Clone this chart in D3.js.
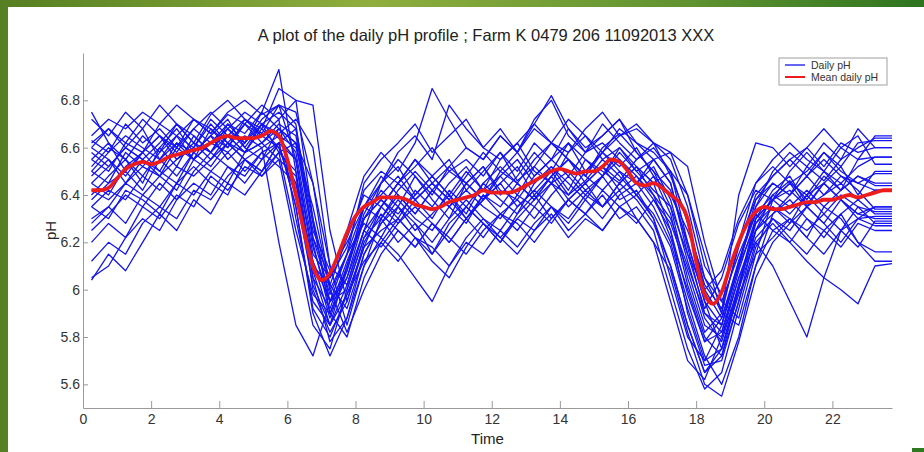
<!DOCTYPE html>
<html>
<head>
<meta charset="utf-8">
<script src="https://cdn.jsdelivr.net/npm/d3@7"></script>
<style>
  html, body { margin: 0; padding: 0; background: #fff; }
  body { width: 924px; height: 452px; overflow: hidden; }
  text { font-family: "Liberation Sans", Arial, sans-serif; }
</style>
</head>
<body>
<div id="chart"></div>
<script>
// Chart text
const chartTitle = "A plot of the daily pH profile ; Farm K 0479 206 11092013 XXX";
const xLabel = "Time";
const yLabel = "pH";
const legendLabels = ["Daily pH", "Mean daily pH"];
const xTicks = [0, 2, 4, 6, 8, 10, 12, 14, 16, 18, 20, 22];
const yTicks = [5.6, 5.8, 6, 6.2, 6.4, 6.6, 6.8];

// Sample times (hours) of the daily readings
const times = [0.25, 0.75, 1.25, 1.75, 2.25, 2.75, 3.25, 3.75, 4.25, 4.75, 5.25, 5.75,
  6.25, 6.75, 7.25, 7.75, 8.25, 8.75, 9.25, 9.75, 10.25, 10.75, 11.25, 11.75,
  12.25, 12.75, 13.25, 13.75, 14.25, 14.75, 15.25, 15.75, 16.25, 16.75, 17.25, 17.75,
  18.25, 18.75, 19.25, 19.75, 20.25, 20.75, 21.25, 21.75, 22.25, 22.75, 23.25, 23.75];

// Daily pH curves (one per day)
const day01 = [6.63,6.58,6.70,6.62,6.68,6.60,6.72,6.66,6.74,6.70,6.65,6.72, 6.30,5.95,5.85,6.10, 6.35,6.45,6.52,6.40,6.48,6.55,6.42,6.50,6.58,6.46,6.52,6.62,6.55,6.48,6.60,6.66, 6.58,6.50,6.35,6.05,5.82,5.90,6.20,6.38, 6.45,6.40,6.52,6.46,6.55,6.60,6.64,6.64];
const day02 = [6.45,6.40,6.52,6.58,6.50,6.62,6.55,6.68,6.60,6.72,6.66,6.78, 6.70,6.20,5.90,6.05, 6.30,6.42,6.35,6.48,6.38,6.30,6.45,6.52,6.40,6.48,6.58,6.50,6.62,6.55,6.48,6.60, 6.52,6.45,6.50,6.20,5.95,5.75,6.00,6.30, 6.42,6.48,6.36,6.45,6.52,6.40,6.50,6.50];
const day03 = [6.05,6.10,6.22,6.30,6.25,6.38,6.45,6.40,6.52,6.48,6.58,6.62, 6.55,6.05,5.78,5.88, 6.15,6.28,6.35,6.25,6.32,6.40,6.30,6.38,6.45,6.35,6.42,6.50,6.40,6.46,6.55,6.48, 6.40,6.30,6.10,5.85,5.65,5.72,6.00,6.22, 6.30,6.25,6.35,6.28,6.38,6.32,6.30,6.30];
const day04 = [6.72,6.65,6.75,6.68,6.78,6.70,6.62,6.74,6.80,6.72,6.68,6.85, 6.80,6.30,6.00,6.15, 6.45,6.55,6.62,6.70,6.58,6.65,6.72,6.60,6.68,6.58,6.72,6.80,6.65,6.58,6.70,6.62, 6.55,6.62,6.48,6.30,6.00,5.88,6.10,6.35, 6.50,6.58,6.52,6.62,6.55,6.68,6.60,6.60];
const day05 = [6.30,6.35,6.28,6.40,6.48,6.42,6.55,6.50,6.45,6.58,6.62,6.55, 6.20,5.85,5.75,6.00, 6.22,6.30,6.20,6.28,6.15,6.25,6.35,6.28,6.20,6.32,6.40,6.30,6.38,6.45,6.35,6.42, 6.30,6.20,5.95,5.70,5.62,5.80,6.05,6.25, 6.35,6.28,6.40,6.32,6.25,6.35,6.28,6.28];
const day06 = [6.55,6.62,6.50,6.58,6.65,6.55,6.60,6.70,6.62,6.58,6.68,6.60, 6.45,6.10,6.02,6.22, 6.40,6.35,6.45,6.55,6.48,6.40,6.50,6.42,6.55,6.62,6.50,6.45,6.58,6.65,6.55,6.60, 6.50,6.55,6.45,6.15,5.92,6.05,6.28,6.42, 6.38,6.45,6.40,6.50,6.42,6.48,6.45,6.45];
const day07 = [6.12,6.20,6.15,6.28,6.35,6.30,6.42,6.38,6.48,6.55,6.50,6.62, 6.68,6.30,5.90,5.80, 6.05,6.20,6.30,6.22,6.12,6.05,6.18,6.28,6.20,6.30,6.25,6.35,6.28,6.38,6.30,6.40, 6.45,6.35,6.20,5.95,5.72,5.60,5.80,6.10, 6.25,6.30,6.22,6.35,6.30,6.20,6.16,6.16];
const day08 = [6.40,6.48,6.55,6.45,6.60,6.52,6.65,6.58,6.70,6.62,6.75,6.68, 6.62,6.25,6.08,6.20, 6.35,6.40,6.48,6.38,6.45,6.52,6.45,6.38,6.50,6.58,6.48,6.55,6.62,6.50,6.58,6.52, 6.60,6.48,6.40,6.25,6.05,5.95,6.15,6.32, 6.40,6.46,6.38,6.48,6.42,6.55,6.56,6.56];
const day09 = [6.58,6.52,6.60,6.68,6.55,6.62,6.58,6.65,6.72,6.60,6.70,6.66, 6.72,6.60,6.10,5.85, 6.10,6.30,6.40,6.32,6.42,6.35,6.28,6.40,6.35,6.45,6.38,6.48,6.55,6.45,6.52,6.46, 6.55,6.60,6.50,6.40,6.15,5.90,5.85,6.10, 6.32,6.40,6.48,6.40,6.45,6.38,6.42,6.42];
const day10 = [6.50,6.45,6.58,6.52,6.48,6.60,6.55,6.62,6.58,6.65,6.60,6.20, 5.85,5.72,5.95,6.15, 6.28,6.22,6.35,6.28,6.20,6.30,6.38,6.30,6.25,6.35,6.42,6.35,6.30,6.40,6.48,6.38, 6.42,6.30,6.05,5.80,5.70,5.85,6.10,6.28, 6.35,6.30,6.25,6.32,6.40,6.35,6.33,6.33];
const day11 = [6.65,6.72,6.68,6.75,6.70,6.78,6.72,6.66,6.75,6.80,6.74,6.78, 6.55,6.15,6.05,6.25, 6.48,6.58,6.50,6.62,6.85,6.72,6.60,6.55,6.65,6.58,6.68,6.62,6.72,6.65,6.58,6.68, 6.62,6.55,6.58,6.40,6.10,5.98,6.20,6.45, 6.55,6.62,6.55,6.50,6.60,6.65,6.53,6.53];
const day12 = [6.35,6.30,6.42,6.38,6.32,6.45,6.52,6.45,6.40,6.55,6.48,6.58, 6.50,6.00,5.82,5.95, 6.20,6.32,6.25,6.18,6.28,6.22,6.15,6.25,6.32,6.28,6.20,6.30,6.38,6.32,6.42,6.35, 6.28,6.38,6.25,5.90,5.68,5.70,5.95,6.20, 6.28,6.20,6.30,6.25,6.18,6.28,6.25,6.25];
const day13 = [6.60,6.55,6.48,6.58,6.65,6.60,6.68,6.62,6.70,6.66,6.75,6.93, 6.50,6.05,5.92,6.12, 6.30,6.38,6.30,6.42,6.35,6.45,6.52,6.42,6.48,6.40,6.52,6.45,6.40,6.50,6.58,6.50, 6.45,6.52,6.38,6.12,5.88,5.78,6.02,6.30, 6.38,6.42,6.35,6.45,6.38,6.32,6.35,6.35];
const day14 = [6.25,6.32,6.40,6.35,6.45,6.38,6.50,6.58,6.52,6.45,6.55,6.62, 6.35,5.90,5.72,5.88, 6.10,6.22,6.15,6.05,5.95,6.10,6.20,6.15,6.25,6.18,6.28,6.35,6.25,6.32,6.40,6.30, 6.35,6.25,6.00,5.75,5.58,5.65,5.92,6.18, 6.30,6.22,6.15,6.25,6.32,6.20,6.12,6.12];
const day15 = [6.48,6.55,6.45,6.52,6.60,6.68,6.58,6.65,6.60,6.70,6.62,6.68, 6.58,6.18,5.95,6.08, 6.32,6.45,6.55,6.48,6.40,6.52,6.60,6.55,6.65,6.58,6.70,6.82,6.68,6.60,6.65,6.72, 6.58,6.50,6.42,6.20,5.95,5.85,6.10,6.38, 6.48,6.55,6.60,6.52,6.62,6.58,6.60,6.60];
const day16 = [6.38,6.45,6.50,6.42,6.55,6.48,6.58,6.52,6.62,6.55,6.60,6.65, 6.60,6.35,6.02,5.92, 6.15,6.28,6.38,6.30,6.25,6.35,6.42,6.35,6.30,6.40,6.35,6.45,6.50,6.42,6.48,6.55, 6.48,6.40,6.30,6.10,5.90,5.82,6.05,6.20, 6.10,5.95,5.80,6.05,6.25,6.18,6.29,6.29];
const day17 = [6.52,6.60,6.55,6.48,6.58,6.65,6.55,6.62,6.68,6.60,6.55,6.68, 6.62,6.22,5.98,6.15, 6.35,6.30,6.42,6.50,6.42,6.35,6.45,6.38,6.48,6.55,6.45,6.52,6.42,6.55,6.50,6.45, 6.52,6.45,6.25,5.98,5.78,5.88,6.12,6.32, 6.25,6.20,6.12,6.05,6.00,5.94,6.10,6.11];
const day18 = [6.42,6.38,6.45,6.55,6.50,6.45,6.58,6.65,6.55,6.62,6.70,6.58, 6.25,5.98,5.90,6.10, 6.30,6.38,6.32,6.40,6.48,6.40,6.32,6.45,6.38,6.32,6.45,6.52,6.45,6.38,6.48,6.58, 6.50,6.42,6.35,6.15,6.00,6.08,6.30,6.45, 6.52,6.45,6.50,6.58,6.50,6.45,6.49,6.49];
const day19 = [6.20,6.28,6.22,6.35,6.30,6.40,6.35,6.48,6.42,6.52,6.48,6.55, 6.48,6.08,5.85,5.98, 6.12,6.20,6.12,6.22,6.18,6.10,6.22,6.30,6.22,6.15,6.25,6.32,6.22,6.30,6.25,6.35, 6.40,6.32,6.18,5.92,5.70,5.75,5.98,6.15, 6.22,6.30,6.22,6.15,6.25,6.30,6.27,6.27];
const day20 = [6.60,6.68,6.62,6.72,6.65,6.58,6.68,6.75,6.68,6.62,6.72,6.78, 6.75,6.45,6.10,6.02, 6.25,6.45,6.58,6.65,6.55,6.78,6.68,6.60,6.55,6.62,6.70,6.62,6.58,6.68,6.75,6.65, 6.70,6.62,6.55,6.35,6.05,5.90,6.40,6.62, 6.60,6.52,6.60,6.68,6.60,6.55,6.65,6.65];
const day21 = [6.45,6.52,6.60,6.55,6.48,6.55,6.62,6.58,6.65,6.72,6.65,6.60, 6.40,6.02,5.85,6.02, 6.25,6.35,6.45,6.38,6.30,6.42,6.35,6.45,6.52,6.45,6.38,6.48,6.55,6.48,6.42,6.50, 6.40,6.48,6.32,6.02,5.80,5.72,5.95,6.25, 6.40,6.35,6.42,6.35,6.42,6.48,6.44,6.44];
const day22 = [6.75,6.62,6.55,6.65,6.58,6.70,6.62,6.55,6.65,6.58,6.62,6.70, 6.65,6.28,5.95,6.00, 6.22,6.35,6.28,6.38,6.45,6.38,6.30,6.38,6.45,6.52,6.40,6.48,6.38,6.45,6.52,6.42, 6.48,6.38,6.28,6.08,5.85,5.80,6.00,6.28, 6.38,6.45,6.35,6.40,6.48,6.42,6.34,6.34];
const day23 = [6.04,6.15,6.08,6.20,6.32,6.25,6.38,6.32,6.45,6.40,6.50,6.58, 6.62,6.45,6.00,5.82, 6.00,6.15,6.25,6.18,6.28,6.20,6.30,6.22,6.32,6.25,6.35,6.28,6.38,6.32,6.25,6.35, 6.30,6.20,6.08,5.82,5.60,5.55,5.78,6.05, 6.20,6.28,6.35,6.28,6.20,6.30,6.31,6.31];
const day24 = [6.55,6.50,6.62,6.58,6.70,6.65,6.60,6.72,6.65,6.58,6.70,6.75, 6.68,6.22,6.05,6.18, 6.42,6.50,6.45,6.52,6.60,6.50,6.55,6.48,6.58,6.50,6.62,6.55,6.68,6.58,6.65,6.72, 6.62,6.58,6.50,6.28,6.02,5.92,6.18,6.40, 6.48,6.55,6.48,6.58,6.52,6.62,6.63,6.63];
const day25 = [6.35,6.42,6.38,6.48,6.42,6.52,6.48,6.55,6.62,6.55,6.50,6.62, 6.35,5.92,5.80,5.98, 6.18,6.25,6.30,6.22,6.15,6.28,6.35,6.28,6.22,6.30,6.38,6.45,6.35,6.42,6.35,6.45, 6.38,6.28,6.10,5.85,5.65,5.75,6.02,6.25, 6.32,6.38,6.30,6.22,6.32,6.38,6.32,6.32];
const day26 = [6.50,6.58,6.65,6.60,6.55,6.65,6.72,6.68,6.62,6.70,6.78,6.72, 6.80,6.78,6.25,5.95, 6.18,6.35,6.45,6.55,6.45,6.38,6.48,6.58,6.50,6.45,6.55,6.62,6.55,6.48,6.58,6.65, 6.68,6.62,6.58,6.52,6.20,5.95,5.88,6.15, 6.38,6.50,6.58,6.50,6.45,6.52,6.56,6.56];
const day27 = [6.28,6.35,6.45,6.40,6.35,6.45,6.40,6.50,6.58,6.50,6.58,6.52, 6.45,6.12,5.95,6.05, 6.25,6.18,6.28,6.35,6.28,6.20,6.30,6.40,6.32,6.38,6.30,6.40,6.48,6.40,6.35,6.45, 6.52,6.40,6.22,6.00,5.78,5.82,6.08,6.30, 6.38,6.32,6.40,6.45,6.38,6.30,6.35,6.35];
const day28 = [6.62,6.68,6.60,6.55,6.62,6.70,6.65,6.58,6.68,6.75,6.70,6.64, 6.55,6.12,5.88,6.08, 6.35,6.48,6.40,6.32,6.42,6.50,6.45,6.52,6.42,6.38,6.48,6.55,6.48,6.58,6.62,6.55, 6.45,6.55,6.45,6.18,5.90,5.85,6.12,6.35, 6.45,6.40,6.48,6.55,6.48,6.45,6.42,6.42];

const dailyCurves = [day01, day02, day03, day04, day05, day06, day07, day08, day09, day10,
  day11, day12, day13, day14, day15, day16, day17, day18, day19, day20,
  day21, day22, day23, day24, day25, day26, day27, day28];

// Mean daily pH (read at quarter hours)
const meanTimes = [0.25, 0.5, 0.75, 1, 1.25, 1.5, 1.75, 2, 2.25, 2.5, 2.75, 3, 3.25, 3.5, 3.75, 4,
  4.25, 4.5, 4.75, 5, 5.25, 5.5, 5.75, 6, 6.25, 6.5, 6.75, 7, 7.25, 7.5, 7.75, 8,
  8.25, 8.5, 8.75, 9, 9.25, 9.5, 9.75, 10, 10.25, 10.5, 10.75, 11, 11.25, 11.5, 11.75, 12,
  12.25, 12.5, 12.75, 13, 13.25, 13.5, 13.75, 14, 14.25, 14.5, 14.75, 15, 15.25, 15.5, 15.75, 16,
  16.25, 16.5, 16.75, 17, 17.25, 17.5, 17.75, 18, 18.25, 18.5, 18.75, 19, 19.25, 19.5, 19.75, 20,
  20.25, 20.5, 20.75, 21, 21.25, 21.5, 21.75, 22, 22.25, 22.5, 22.75, 23, 23.25, 23.5, 23.75];
const meanPH = [6.42, 6.42, 6.43, 6.47, 6.51, 6.53, 6.54, 6.53, 6.54, 6.56, 6.57, 6.58, 6.59, 6.60, 6.62, 6.64,
  6.65, 6.64, 6.64, 6.64, 6.65, 6.67, 6.65, 6.55, 6.40, 6.24, 6.10, 6.04, 6.07, 6.15, 6.24, 6.31,
  6.35, 6.37, 6.39, 6.39, 6.39, 6.38, 6.36, 6.35, 6.34, 6.35, 6.37, 6.38, 6.39, 6.40, 6.42, 6.41,
  6.41, 6.41, 6.42, 6.44, 6.46, 6.48, 6.50, 6.51, 6.50, 6.49, 6.50, 6.50, 6.52, 6.55, 6.54, 6.50,
  6.45, 6.44, 6.45, 6.43, 6.40, 6.37, 6.30, 6.12, 5.98, 5.94, 5.99, 6.10, 6.20, 6.28, 6.33, 6.35,
  6.34, 6.34, 6.35, 6.36, 6.37, 6.37, 6.38, 6.38, 6.39, 6.40, 6.39, 6.40, 6.41, 6.42, 6.42];

// Page + plot geometry
const W = 924, H = 452;
const plot = { left: 83, right: 892, top: 53, bottom: 408 };

const svg = d3.select("#chart")
    .append("svg")
    .attr("width", W)
    .attr("height", H);

// green frame of the slide behind the figure
const defs = svg.append("defs");
const grad = defs.append("linearGradient").attr("id", "frame").attr("x1", 0).attr("x2", 1).attr("y1", 0).attr("y2", 0);
grad.append("stop").attr("offset", "0%").attr("stop-color", "#557f22");
grad.append("stop").attr("offset", "40%").attr("stop-color", "#8fae3e");
grad.append("stop").attr("offset", "75%").attr("stop-color", "#5f9230");
grad.append("stop").attr("offset", "100%").attr("stop-color", "#2f7420");

svg.append("rect").attr("width", W).attr("height", H).attr("fill", "url(#frame)");
svg.append("rect").attr("x", 8).attr("y", 7).attr("width", W - 8).attr("height", H - 7).attr("fill", "#ffffff");
svg.append("rect").attr("x", 912).attr("y", 448).attr("width", 12).attr("height", 4).attr("fill", "#2f7a20");

const x = d3.scaleLinear().domain([0, 23.75]).range([plot.left, plot.right]);
const y = d3.scaleLinear().domain([5.5, 7.0]).range([plot.bottom, plot.top]);

// daily curves
const line = d3.line()
    .x((d, i) => x(times[i]))
    .y(d => y(d));

svg.append("g")
    .selectAll("path")
    .data(dailyCurves)
    .enter().append("path")
    .attr("d", line)
    .attr("fill", "none")
    .attr("stroke", "#1414f0")
    .attr("stroke-width", 1.3)
    .attr("stroke-linejoin", "round");

// mean curve on top
const meanLine = d3.line()
    .x((d, i) => x(meanTimes[i]))
    .y(d => y(d))
    .curve(d3.curveMonotoneX);

svg.append("path")
    .datum(meanPH)
    .attr("d", meanLine)
    .attr("fill", "none")
    .attr("stroke", "#ec1c1c")
    .attr("stroke-width", 3.8)
    .attr("stroke-linejoin", "round");

// axes (inward ticks, like Matlab)
const xAxis = svg.append("g")
    .attr("transform", `translate(0,${plot.bottom})`)
    .call(d3.axisBottom(x).tickValues(xTicks).tickSizeInner(-7).tickSizeOuter(0).tickPadding(6));

const yAxis = svg.append("g")
    .attr("transform", `translate(${plot.left},0)`)
    .call(d3.axisLeft(y).tickValues(yTicks).tickSizeInner(-5).tickSizeOuter(0).tickPadding(3)
        .tickFormat(d => String(d)));

[xAxis, yAxis].forEach(g => {
    g.select(".domain").attr("stroke", "#9a9a9a");
    g.selectAll(".tick line").attr("stroke", "#9a9a9a");
    g.selectAll(".tick text")
        .attr("fill", "#333")
        .style("font-size", "14px")
        .style("font-family", "'Liberation Sans', Arial, sans-serif");
});

// titles
svg.append("text")
    .attr("x", 486)
    .attr("y", 41)
    .attr("text-anchor", "middle")
    .style("font-size", "16.5px")
    .attr("fill", "#222")
    .text(chartTitle);

svg.append("text")
    .attr("x", (plot.left + plot.right) / 2)
    .attr("y", 444)
    .attr("text-anchor", "middle")
    .style("font-size", "15px")
    .attr("fill", "#222")
    .text(xLabel);

svg.append("text")
    .attr("transform", `translate(56,${(plot.top + plot.bottom) / 2}) rotate(-90)`)
    .attr("text-anchor", "middle")
    .style("font-size", "15px")
    .attr("fill", "#222")
    .text(yLabel);

// legend
const legend = svg.append("g").attr("transform", "translate(779,58)");
legend.append("rect")
    .attr("width", 108)
    .attr("height", 27)
    .attr("fill", "#fff")
    .attr("stroke", "#a0a0a0")
    .attr("stroke-width", 1);

const legendColors = ["#1414f0", "#ec1c1c"];
legendLabels.forEach((label, i) => {
    legend.append("line")
        .attr("x1", 6).attr("x2", 26)
        .attr("y1", 7 + i * 12).attr("y2", 7 + i * 12)
        .attr("stroke", legendColors[i])
        .attr("stroke-width", i === 0 ? 1.3 : 2);
    legend.append("text")
        .attr("x", 32)
        .attr("y", 7 + i * 12)
        .attr("dy", "0.35em")
        .style("font-size", "10.5px")
        .attr("fill", "#333")
        .text(label);
});
</script>
</body>
</html>
